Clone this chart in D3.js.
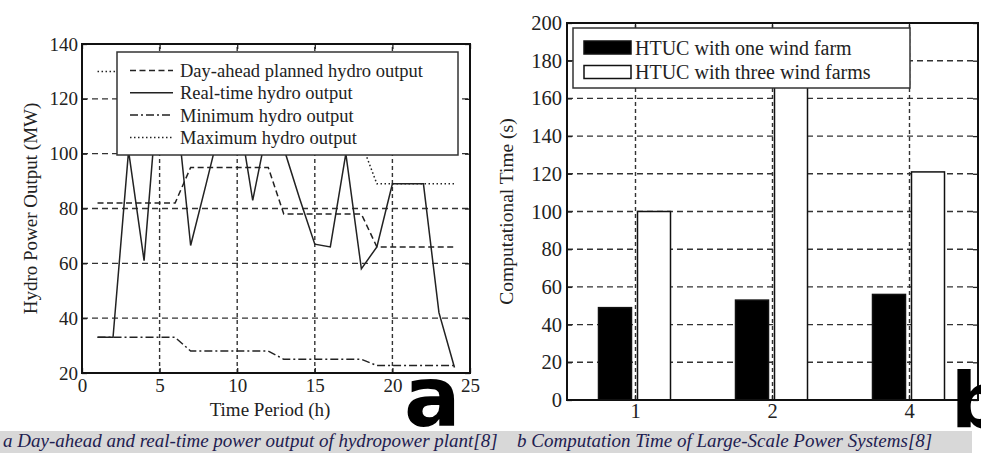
<!DOCTYPE html>
<html>
<head>
<meta charset="utf-8">
<script src="https://cdn.jsdelivr.net/npm/d3@7"></script>
<style>
  body { margin: 0; background: #fff; }
  svg text { font-family: "Liberation Serif", "Times New Roman", serif; fill: #222; }
</style>
</head>
<body>
<svg id="canvas" width="981" height="453"></svg>
<script>
// panel a: hydro output per hour
const hours = [1, 2, 3, 4, 5, 6, 7, 8, 9, 10, 11, 12, 13, 14, 15, 16, 17, 18, 19, 20, 21, 22, 23, 24];
const dayAhead = [82, 82, 82, 82, 82, 82, 95, 95, 95, 95, 95, 95, 78, 78, 78, 78, 78, 78, 66, 66, 66, 66, 66, 66];
const realTime = [33, 33, 101, 61, 130, 122, 66.5, 89, 112, 118, 83, 111, 102, 84, 67, 66, 100, 58, 66, 89, 89, 89, 42, 22];
const minimum = [33, 33, 33, 33, 33, 33, 28, 28, 28, 28, 28, 28, 25, 25, 25, 25, 25, 25, 22.7, 22.7, 22.7, 22.7, 22.7, 22.7];
const maximum = [130, 130, 130, 130, 130, 130, 124, 124, 124, 124, 124, 124, 104, 104, 104, 104, 104, 104, 89, 89, 89, 89, 89, 89];
const hydroNames = ["Day-ahead planned hydro output", "Real-time hydro output", "Minimum hydro output", "Maximum hydro output"];
const hourTicks = [0, 5, 10, 15, 20, 25];
const hydroTicks = [20, 40, 60, 80, 100, 120, 140];

// panel b: computation time
const systems = ["1", "2", "4"];
const oneFarm = [49, 53, 56];
const threeFarms = [100, 175, 121];
const farmNames = ["HTUC with one wind farm", "HTUC with three wind farms"];
const timeTicks = [0, 20, 40, 60, 80, 100, 120, 140, 160, 180, 200];

const captionA = "a Day-ahead and real-time power output of hydropower plant[8]";
const captionB = "b Computation Time of Large-Scale Power Systems[8]";

const svg = d3.select("#canvas");
const ink = "#222";

// ---------- panel a ----------
const xHour = d3.scaleLinear().domain([0, 25]).range([82, 470]);
const yHydro = d3.scaleLinear().domain([20, 140]).range([373, 44]);

const left = svg.append("g");

left.selectAll(".hgrid")
  .data(hydroTicks.slice(1, -1))
  .enter()
  .append("line")
  .attr("x1", xHour(0)).attr("x2", xHour(25))
  .attr("y1", (d) => yHydro(d)).attr("y2", (d) => yHydro(d))
  .attr("stroke", "#333").attr("stroke-width", 1.4)
  .attr("stroke-dasharray", "6,4");

left.selectAll(".vgrid")
  .data(hourTicks.slice(1, -1))
  .enter()
  .append("line")
  .attr("x1", (d) => xHour(d)).attr("x2", (d) => xHour(d))
  .attr("y1", yHydro(20)).attr("y2", yHydro(140))
  .attr("stroke", "#333").attr("stroke-width", 1.4)
  .attr("stroke-dasharray", "4,3");

const hydroSeries = [
  { name: hydroNames[0], values: dayAhead, dash: "6,3.5" },
  { name: hydroNames[1], values: realTime, dash: null },
  { name: hydroNames[2], values: minimum, dash: "8,3,2,3" },
  { name: hydroNames[3], values: maximum, dash: "1.5,2.5" },
];

const hydroLine = d3.line()
  .x((d, i) => xHour(hours[i]))
  .y((d) => yHydro(d));

left.selectAll(".series")
  .data(hydroSeries)
  .enter()
  .append("path")
  .attr("d", (s) => hydroLine(s.values))
  .attr("fill", "none")
  .attr("stroke", ink)
  .attr("stroke-width", 1.5)
  .attr("stroke-dasharray", (s) => s.dash);

left.append("g")
  .attr("transform", `translate(0,${yHydro(20)})`)
  .call(d3.axisBottom(xHour).tickValues(hourTicks).tickSize(-5).tickPadding(6))
  .call((g) => g.select(".domain").remove());
left.append("g")
  .attr("transform", `translate(${xHour(0)},0)`)
  .call(d3.axisLeft(yHydro).tickValues(hydroTicks).tickSize(-5).tickPadding(4))
  .call((g) => g.select(".domain").remove());
left.append("g")
  .attr("transform", `translate(0,${yHydro(140)})`)
  .call(d3.axisTop(xHour).tickValues(hourTicks).tickSize(-5).tickFormat(""))
  .call((g) => g.select(".domain").remove());
left.append("g")
  .attr("transform", `translate(${xHour(25)},0)`)
  .call(d3.axisRight(yHydro).tickValues(hydroTicks).tickSize(-5).tickFormat(""))
  .call((g) => g.select(".domain").remove());
left.selectAll(".tick line").attr("stroke", ink).attr("stroke-width", 1.3);
left.selectAll(".tick text").attr("font-size", 19).attr("font-family", "Liberation Serif").attr("fill", ink);

left.append("rect")
  .attr("x", xHour(0)).attr("y", yHydro(140))
  .attr("width", xHour(25) - xHour(0)).attr("height", yHydro(20) - yHydro(140))
  .attr("fill", "none").attr("stroke", "#111").attr("stroke-width", 2);

left.append("text")
  .attr("transform", `translate(30,${(yHydro(20) + yHydro(140)) / 2}) rotate(-90)`)
  .attr("text-anchor", "middle").attr("dy", "0.35em")
  .attr("font-size", 19)
  .text("Hydro Power Output (MW)");
left.append("text")
  .attr("x", 270).attr("y", 416)
  .attr("text-anchor", "middle")
  .attr("font-size", 19)
  .text("Time Period (h)");

// legend a
const legA = left.append("g");
legA.append("rect")
  .attr("x", 117).attr("y", 52).attr("width", 341).attr("height", 103)
  .attr("fill", "#fff").attr("stroke", "#333").attr("stroke-width", 1.5);
const legARows = legA.selectAll(".row")
  .data(hydroSeries)
  .enter()
  .append("g")
  .attr("transform", (d, i) => `translate(0,${70.5 + i * 22.3})`);
legARows.append("line")
  .attr("x1", 130).attr("x2", 173)
  .attr("stroke", ink).attr("stroke-width", 1.5)
  .attr("stroke-dasharray", (s) => s.dash);
legARows.append("text")
  .attr("x", 180).attr("dy", "0.35em")
  .attr("font-size", 18.5)
  .text((s) => s.name);

// ---------- panel b ----------
const xSystem = d3.scaleBand().domain(systems).range([567, 978]);
const bw = xSystem.bandwidth();
const xFarm = d3.scaleBand().domain([0, 1]).range([bw / 2 - 37, bw / 2 + 35]).paddingInner(0.154);
const yTime = d3.scaleLinear().domain([0, 200]).range([400, 23]);

const right = svg.append("g");

right.selectAll(".hgrid")
  .data(timeTicks.slice(1, -1))
  .enter()
  .append("line")
  .attr("x1", 567).attr("x2", 978)
  .attr("y1", (d) => yTime(d)).attr("y2", (d) => yTime(d))
  .attr("stroke", "#333").attr("stroke-width", 1.4)
  .attr("stroke-dasharray", "6,4");

right.selectAll(".vgrid")
  .data(systems)
  .enter()
  .append("line")
  .attr("x1", (d) => xSystem(d) + bw / 2).attr("x2", (d) => xSystem(d) + bw / 2)
  .attr("y1", yTime(0)).attr("y2", yTime(200))
  .attr("stroke", "#333").attr("stroke-width", 1.4)
  .attr("stroke-dasharray", "4,3");

const farmSeries = [
  { name: farmNames[0], values: oneFarm, fill: "#000" },
  { name: farmNames[1], values: threeFarms, fill: "#fff" },
];

const groups = right.selectAll(".system")
  .data(systems)
  .enter()
  .append("g")
  .attr("transform", (d) => `translate(${xSystem(d)},0)`);

groups.selectAll("rect")
  .data((d, i) => farmSeries.map((s, k) => ({ k: k, value: s.values[i], fill: s.fill })))
  .enter()
  .append("rect")
  .attr("x", (d) => xFarm(d.k))
  .attr("width", xFarm.bandwidth())
  .attr("y", (d) => yTime(d.value))
  .attr("height", (d) => yTime(0) - yTime(d.value))
  .attr("fill", (d) => d.fill)
  .attr("stroke", "#111").attr("stroke-width", 1.5);

right.append("g")
  .attr("transform", `translate(0,${yTime(0)})`)
  .call(d3.axisBottom(xSystem).tickSize(-5).tickPadding(3))
  .call((g) => g.select(".domain").remove());
right.append("g")
  .attr("transform", "translate(567,0)")
  .call(d3.axisLeft(yTime).tickValues(timeTicks).tickSize(-5).tickPadding(5))
  .call((g) => g.select(".domain").remove());
right.append("g")
  .attr("transform", `translate(0,${yTime(200)})`)
  .call(d3.axisTop(xSystem).tickSize(-5).tickFormat(""))
  .call((g) => g.select(".domain").remove());
right.append("g")
  .attr("transform", "translate(978,0)")
  .call(d3.axisRight(yTime).tickValues(timeTicks).tickSize(-5).tickFormat(""))
  .call((g) => g.select(".domain").remove());
right.selectAll(".tick line").attr("stroke", ink).attr("stroke-width", 1.3);
right.selectAll(".tick text").attr("font-size", 20.5).attr("font-family", "Liberation Serif").attr("fill", ink);

right.append("rect")
  .attr("x", 567).attr("y", yTime(200))
  .attr("width", 978 - 567).attr("height", yTime(0) - yTime(200))
  .attr("fill", "none").attr("stroke", "#111").attr("stroke-width", 2);

right.append("text")
  .attr("transform", `translate(506,${(yTime(0) + yTime(200)) / 2}) rotate(-90)`)
  .attr("text-anchor", "middle").attr("dy", "0.35em")
  .attr("font-size", 19.5)
  .text("Computational Time (s)");

// legend b
const legB = right.append("g");
legB.append("rect")
  .attr("x", 573).attr("y", 28).attr("width", 337).attr("height", 60)
  .attr("fill", "#fff").attr("stroke", "#333").attr("stroke-width", 1.5);
const legBRows = legB.selectAll(".row")
  .data(farmSeries)
  .enter()
  .append("g")
  .attr("transform", (d, i) => `translate(0,${47.5 + i * 24.5})`);
legBRows.append("rect")
  .attr("x", 584).attr("y", -6.5).attr("width", 47).attr("height", 13)
  .attr("fill", (s) => s.fill).attr("stroke", "#111").attr("stroke-width", 1.5);
legBRows.append("text")
  .attr("x", 635).attr("dy", "0.35em")
  .attr("font-size", 20)
  .text((s) => s.name);

// ---------- panel letters and caption ----------
svg.append("text")
  .attr("x", 404).attr("y", 426)
  .attr("font-weight", "bold")
  .attr("font-size", 84)
  .style("font-family", "DejaVu Sans")
  .style("fill", "#000")
  .text("a");
svg.append("text")
  .attr("x", 951).attr("y", 427)
  .attr("font-weight", "bold")
  .attr("font-size", 76)
  .style("font-family", "DejaVu Sans")
  .style("fill", "#000")
  .text("b");

svg.append("rect")
  .attr("x", 0).attr("y", 431).attr("width", 972).attr("height", 22)
  .attr("fill", "#d8d8d8");
svg.append("text")
  .attr("x", 3).attr("y", 447)
  .attr("font-size", 19).attr("font-style", "italic")
  .style("fill", "#1e2050")
  .text(captionA);
svg.append("text")
  .attr("x", 517).attr("y", 447)
  .attr("font-size", 19).attr("font-style", "italic")
  .style("fill", "#1e2050")
  .text(captionB);
</script>
</body>
</html>
